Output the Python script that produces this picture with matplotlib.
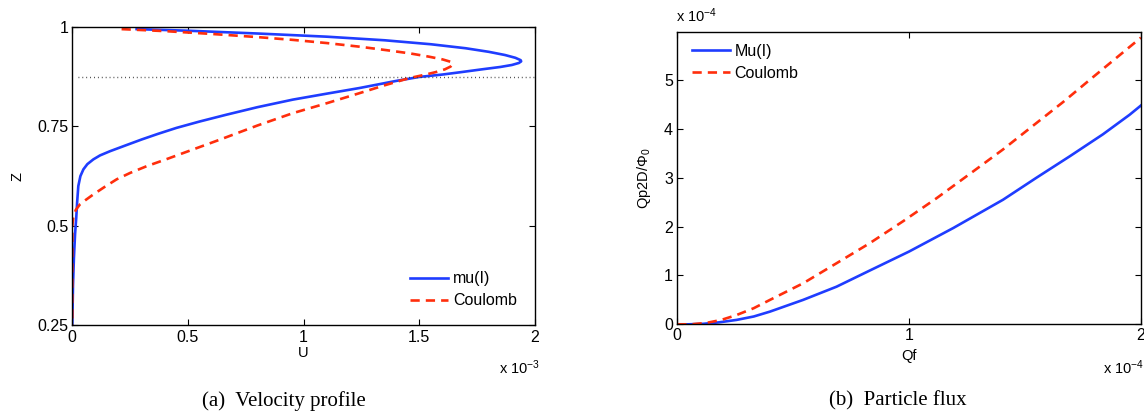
import numpy as np
import matplotlib
matplotlib.use("Agg")
import matplotlib.pyplot as plt

plt.rcParams['font.family'] = ['Liberation Sans', 'DejaVu Sans']
plt.rcParams['mathtext.fontset'] = 'custom'
plt.rcParams['mathtext.rm'] = 'Liberation Sans'
plt.rcParams['mathtext.it'] = 'Liberation Sans'

# (a) velocity profile, U in units of 1e-3
U_mu = [0.278, 0.50, 0.80, 1.10, 1.35, 1.55, 1.70, 1.80, 1.87, 1.915, 1.938, 1.94,
        1.93, 1.90, 1.85, 1.77, 1.68, 1.60, 1.50, 1.40, 1.24, 1.10, 0.953, 0.80,
        0.665, 0.55, 0.45, 0.37, 0.30, 0.23, 0.163, 0.12, 0.091, 0.065, 0.048,
        0.035, 0.026, 0.021, 0.017, 0.012, 0.007, 0.003, 0.0]
Z_mu = [0.994, 0.990, 0.983, 0.975, 0.966, 0.956, 0.946, 0.937, 0.929, 0.922, 0.916, 0.913,
        0.909, 0.904, 0.899, 0.893, 0.886, 0.880, 0.874, 0.864, 0.846, 0.832, 0.817, 0.798,
        0.779, 0.762, 0.746, 0.731, 0.717, 0.702, 0.6875, 0.677, 0.667, 0.655, 0.642,
        0.625, 0.600, 0.560, 0.520, 0.480, 0.420, 0.350, 0.250]
U_coul = [0.213, 0.40, 0.60, 0.80, 0.953, 1.10, 1.24, 1.36, 1.46, 1.54, 1.60, 1.635,
          1.645, 1.635, 1.61, 1.57, 1.52, 1.456, 1.35, 1.24, 1.10, 0.953, 0.80, 0.64,
          0.56, 0.48, 0.40, 0.322, 0.25, 0.192, 0.14, 0.091, 0.06, 0.033, 0.015,
          0.004, 0.0, 0.0]
Z_coul = [0.994, 0.989, 0.982, 0.974, 0.967, 0.959, 0.950, 0.941, 0.933, 0.925, 0.918, 0.912,
          0.907, 0.900, 0.893, 0.886, 0.879, 0.871, 0.853, 0.833, 0.808, 0.783, 0.752, 0.717,
          0.700, 0.683, 0.666, 0.650, 0.633, 0.617, 0.598, 0.579, 0.566, 0.554, 0.540,
          0.521, 0.500, 0.250]
z_dotted = 0.875

# (b) particle flux, both axes in units of 1e-4
Qf_mu = [0.0, 0.05, 0.112, 0.18, 0.256, 0.33, 0.40, 0.543, 0.687, 0.83, 1.0, 1.19,
         1.405, 1.549, 1.693, 1.836, 1.951, 2.0]
Qp_mu = [0.0, 0.0, 0.01, 0.04, 0.09, 0.16, 0.26, 0.50, 0.77, 1.10, 1.49, 1.97,
         2.55, 3.0, 3.44, 3.89, 4.29, 4.48]
Qf_coul = [0.0, 0.06, 0.127, 0.19, 0.256, 0.33, 0.40, 0.543, 0.687, 0.83, 0.974, 1.118,
           1.262, 1.405, 1.549, 1.664, 1.793, 2.0]
Qp_coul = [0.0, 0.0, 0.03, 0.09, 0.19, 0.33, 0.50, 0.84, 1.25, 1.66, 2.11, 2.58,
           3.08, 3.58, 4.12, 4.55, 5.06, 5.87]

blue = '#1f3dff'
red = '#ff2e0c'
tick_fs = 11.5
lab_fs = 10.5

fig = plt.figure(figsize=(11.44, 4.19), dpi=100)
ax1 = fig.add_axes([0.0632, 0.2232, 0.4045, 0.713])
ax2 = fig.add_axes([0.592, 0.226, 0.4053, 0.697])

for ax in (ax1, ax2):
    ax.tick_params(direction='in', top=True, right=True, length=4, width=0.8,
                   labelsize=tick_fs, pad=3)
    for s in ax.spines.values():
        s.set_linewidth(1.0)

ax1.plot(U_mu, Z_mu, color=blue, lw=1.9, label='mu(I)')
ax1.plot(U_coul, Z_coul, color=red, lw=1.9, ls=(0, (3.5, 2.3)), label='Coulomb')
ax1.plot([0.025, 2.0], [z_dotted, z_dotted], color='#333333', lw=1.0, ls=(0, (0.6, 2.2)))
ax1.set_xlim(0, 2)
ax1.set_ylim(0.25, 1)
ax1.set_xticks([0, 0.5, 1, 1.5, 2])
ax1.set_xticklabels(['0', '0.5', '1', '1.5', '2'])
ax1.set_yticks([0.25, 0.5, 0.75, 1])
ax1.set_yticklabels(['0.25', '0.5', '0.75', '1'])
ax1.set_xlabel('U', fontsize=lab_fs, labelpad=1)
ax1.set_ylabel('Z', fontsize=lab_fs, labelpad=9)
ax1.legend(loc='upper left', bbox_to_anchor=(0.73, 0.182), frameon=False,
           fontsize=tick_fs, handlelength=2.4, handletextpad=0.3,
           borderpad=0, borderaxespad=0, labelspacing=0.45)
fig.text(540 / 1144, 1 - 368 / 419, r'x 10$^{-3}$', ha='right', va='center', fontsize=10.5)

ax2.plot(Qf_mu, Qp_mu, color=blue, lw=1.9, label='Mu(I)')
ax2.plot(Qf_coul, Qp_coul, color=red, lw=1.9, ls=(0, (3.5, 2.3)), label='Coulomb')
ax2.set_xlim(0, 2)
ax2.set_ylim(0, 5.98)
ax2.set_xticks([0, 1, 2])
ax2.set_xticklabels(['0', '1', '2'])
ax2.set_yticks([0, 1, 2, 3, 4, 5])
ax2.set_yticklabels(['0', '1', '2', '3', '4', '5'])
ax2.set_xlabel('Qf', fontsize=lab_fs, labelpad=4)
ax2.set_ylabel(r'Qp2D/$\Phi_0$', fontsize=lab_fs, labelpad=8)
ax2.legend(loc='upper left', bbox_to_anchor=(0.031, 0.961), frameon=False,
           fontsize=tick_fs, handlelength=2.4, handletextpad=0.3,
           borderpad=0, borderaxespad=0, labelspacing=0.45)
fig.text(676 / 1144, 1 - 16 / 419, r'x 10$^{-4}$', ha='left', va='center', fontsize=10.5)
fig.text(1144 / 1144, 1 - 368 / 419, r'x 10$^{-4}$', ha='right', va='center', fontsize=10.5)

fig.text(284 / 1144, 1 - 401 / 419, '(a)  Velocity profile', ha='center', va='center',
         fontsize=15, family='Liberation Serif')
fig.text(898 / 1144, 1 - 401 / 419, '(b)  Particle flux', ha='center', va='center',
         fontsize=15, family='Liberation Serif')

fig.savefig('out.png', dpi=100)
